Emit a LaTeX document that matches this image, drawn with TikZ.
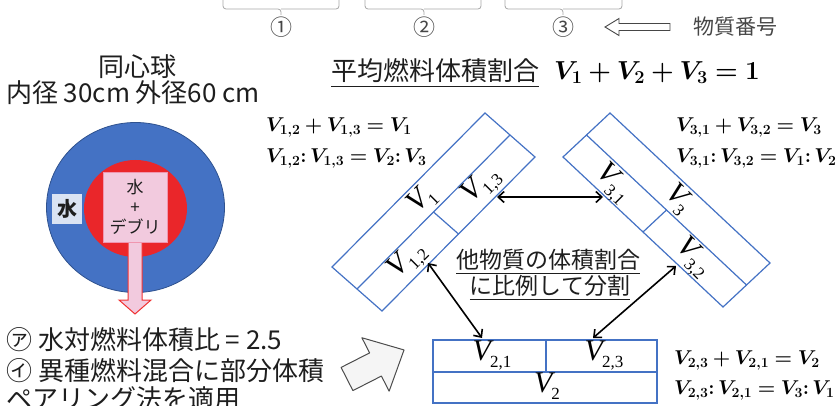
\RequirePackage{fix-cm}
\documentclass[tikz,border=0pt]{standalone}
\usepackage{amsmath,bm}
\usepackage{fontspec}
\newfontfamily\cjk{Noto Sans CJK JP}
\newfontfamily\tnr{Liberation Serif}
\newfontfamily\tnri{Liberation Serif Italic}
\usetikzlibrary{arrows.meta}
\definecolor{boxblue}{RGB}{68,114,196}
\definecolor{circblue}{RGB}{68,114,196}
\definecolor{circedge}{RGB}{47,82,143}
\definecolor{innerred}{RGB}{234,38,42}
\definecolor{pinkfill}{RGB}{242,202,222}
\definecolor{pinkedge}{RGB}{240,150,175}
\definecolor{arrowred}{RGB}{240,50,50}
\definecolor{lightblue}{RGB}{218,227,243}
\definecolor{txt}{RGB}{30,30,30}
\definecolor{graytxt}{RGB}{70,70,70}
\newcommand\VL[2]{{\tnri V}\kern-1pt\raisebox{-7pt}{\tnr\fontsize{17}{17}\selectfont #2}}
\begin{document}
\begin{tikzpicture}[x=1pt,y=-1pt,
  jp/.style={font=\cjk\fontsize{#1}{#1}\selectfont, inner sep=0pt, text=txt},
  eq/.style={font=\fontsize{#1}{#1}\selectfont, inner sep=0pt, text=black},
  boxline/.style={draw=boxblue, line width=1.2pt},
  lbl/.style={font=\tnr\fontsize{30}{30}\selectfont, inner sep=0pt},
  dbl/.style={{Straight Barb[length=6pt,width=11pt]}-{Straight Barb[length=6pt,width=11pt]}, line width=1.6pt, black},
  bracepath/.style={draw=gray!70, line width=0.8pt, rounded corners=3pt}
]
\useasboundingbox (0,0) rectangle (840,406);

% ---------- top strip: braces, numbers, arrow ----------
\draw[bracepath] (223,-2) -- (223,9) -- (281,9) -- (281,15);
\draw[bracepath] (281,9) -- (339,9) -- (339,-2);
\draw[bracepath] (365,-2) -- (365,9) -- (424,9) -- (424,15);
\draw[bracepath] (424,9) -- (481,9) -- (481,-2);
\draw[bracepath] (505,-2) -- (505,9) -- (563,9) -- (563,15);
\draw[bracepath] (563,9) -- (622,9) -- (622,-2);
\node[jp=22, text=graytxt] (c1) at (281,27) {①};
\node[jp=22, text=graytxt] (c2) at (424,27) {②};
\node[jp=22, text=graytxt] (c3) at (563,27) {③};
\draw[graytxt, line width=0.9pt] (605,27) -- (619,18.5) -- (619,23.5) -- (670,23.5) -- (670,30.5) -- (619,30.5) -- (619,35.5) -- cycle;
\node[jp=21, text=graytxt] (bangou) at (735,27) {物質番号};

% ---------- left: concentric sphere ----------
\node[jp=26] (doshin) at (137,67) {同心球};
\node[jp=26] (kei) at (133,93) {内径 30cm 外径60 cm};
\fill[draw=circedge, fill=circblue, line width=0.8pt] (135.5,207.5) ellipse [x radius=89pt, y radius=85pt];
\fill[fill=innerred] (135.5,208.5) ellipse [x radius=51.5pt, y radius=48.5pt];
\draw[draw=arrowred, fill=pinkfill, line width=1pt] (128,240) -- (142,240) -- (142,300) -- (151,300) -- (135,314) -- (119,300) -- (128,300) -- cycle;
\node[draw=pinkedge, fill=pinkfill, line width=0.8pt, minimum width=64pt, minimum height=70pt, align=center,
      font=\cjk\fontsize{17}{20}\selectfont, text=txt, inner sep=0pt] (debri) at (135,207) {水\\+\\デブリ};
\node[fill=lightblue, minimum width=30pt, minimum height=30pt, inner sep=0pt,
      font=\cjk\bfseries\fontsize{20}{20}\selectfont, text=txt] (water) at (67,209) {水};

% ---------- bottom-left text ----------
\node[jp=26, anchor=west] (t1) at (6,340) {㋐ 水対燃料体積比 = 2.5};
\node[jp=26, anchor=west] (t2) at (6,371) {㋑ 異種燃料混合に部分体積};
\node[jp=26, anchor=west] (t3) at (6,399) {ペアリング法を適用};

% gray block arrow
\begin{scope}[shift={(347,379)}, rotate=27]
\draw[fill=gray!8, draw=gray!60!black, line width=1pt, line join=round]
  (0,-13) -- (32,-13) -- (32,-30) -- (64,0) -- (32,30) -- (32,13) -- (0,13) -- cycle;
\end{scope}

% ---------- title ----------
\node[jp=26, anchor=west] (avg) at (331,73) {\underline{平均燃料体積割合}};
\node[eq=26, anchor=west] (avgeq) at (554,73) {$\bm{V_1+V_2+V_3=1}$};

% ---------- box 1 (rotated) ----------
\draw[boxline] (485,113) -- (535,157) -- (382,311) -- (332,267) -- cycle;
\draw[boxline] (510,135) -- (357,289);
\draw[boxline] (433.5,212) -- (458.5,234);
\node[lbl, rotate=45] (v1) at (422,200) {\VL{}{1}};
\node[lbl, rotate=45] (v13) at (482,186) {\VL{}{1,3}};
\node[lbl, rotate=45] (v12) at (408,261) {\VL{}{1,2}};

% ---------- box 3 (rotated) ----------
\draw[boxline] (610,113) -- (770,263) -- (723,307) -- (563,157) -- cycle;
\draw[boxline] (586.5,135) -- (746.5,285);
\draw[boxline] (666.5,210) -- (643,232);
\node[lbl, rotate=-45] (v3) at (678,199) {\VL{}{3}};
\node[lbl, rotate=-45] (v31) at (613,184) {\VL{}{3,1}};
\node[lbl, rotate=-45] (v32) at (693,258) {\VL{}{3,2}};

% ---------- box 2 ----------
\draw[boxline] (433,340) rectangle (657,403);
\draw[boxline] (433,372) -- (657,372);
\draw[boxline] (546,340) -- (546,372);
\node[lbl] (v21) at (492,355) {\VL{}{2,1}};
\node[lbl] (v23) at (604,355) {\VL{}{2,3}};
\node[lbl] (v2) at (547,386) {\VL{}{2}};

% ---------- middle text ----------
\node[jp=23] (mid1) at (548,262) {\underline{他物質の体積割合}};
\node[jp=23] (mid2) at (550,288) {\underline{に比例して分割}};

% ---------- arrows ----------
\coordinate (a13) at (497,197);
\coordinate (a31) at (603,197);
\coordinate (a12) at (428,263);
\coordinate (a21) at (482,338);
\coordinate (a32) at (676,266);
\coordinate (a23) at (593,338);
\draw[dbl] (a13) -- (a31);
\draw[dbl] (a12) -- (a21);
\draw[dbl] (a32) -- (a23);

% ---------- equations ----------
\node[eq=20, anchor=west] (e1a) at (266,128) {$\bm{V_{1,2}+V_{1,3}=V_1}$};
\node[eq=20, anchor=west] (e1b) at (266,159) {$\bm{V_{1,2}{:}\,V_{1,3}=V_2{:}\,V_3}$};
\node[eq=20, anchor=west] (e3a) at (676,128) {$\bm{V_{3,1}+V_{3,2}=V_3}$};
\node[eq=20, anchor=west] (e3b) at (676,159) {$\bm{V_{3,1}{:}\,V_{3,2}=V_1{:}\,V_2}$};
\node[eq=20, anchor=west] (e2a) at (674,360) {$\bm{V_{2,3}+V_{2,1}=V_2}$};
\node[eq=20, anchor=west] (e2b) at (674,390) {$\bm{V_{2,3}{:}\,V_{2,1}=V_3{:}\,V_1}$};
\end{tikzpicture}
\end{document}
